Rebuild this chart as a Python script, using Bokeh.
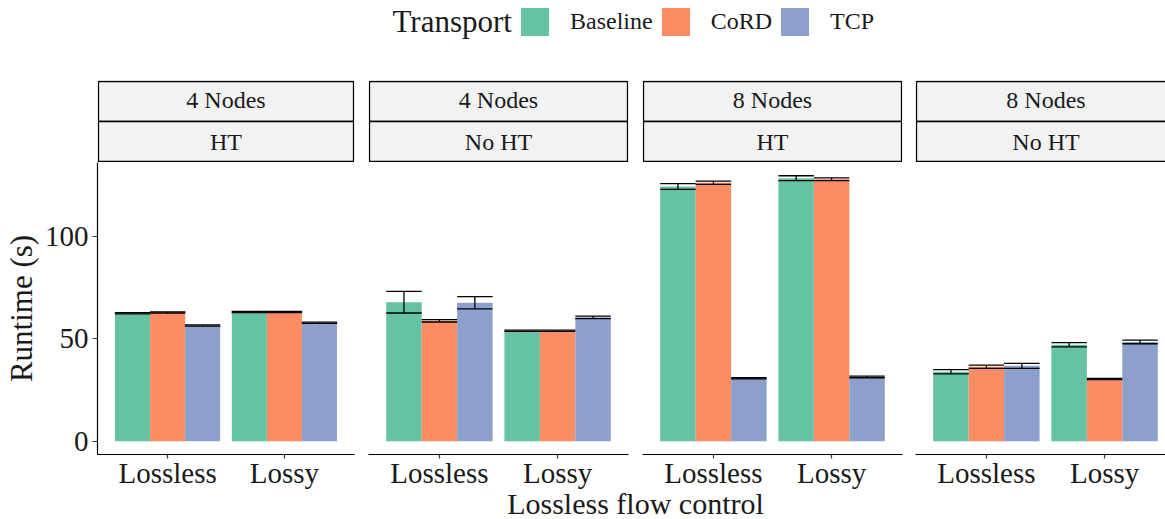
import numpy as np
from bokeh.plotting import figure
from bokeh.layouts import row, column
from bokeh.models import (ColumnDataSource, Range1d, FixedTicker, Whisker, TeeHead,
                          Legend, LegendItem, Label)
from bokeh.core.properties import value
from bokeh.embed import file_html
from bokeh.resources import INLINE

# ---- data -----------------------------------------------------------------
transports = ["Baseline", "CoRD", "TCP"]
flow_control = ["Lossless", "Lossy"]
node_counts = ["4 Nodes", "4 Nodes", "8 Nodes", "8 Nodes"]
hyperthreading = ["HT", "No HT", "HT", "No HT"]

# mean runtime (s), order: Lossless (Baseline, CoRD, TCP), Lossy (Baseline, CoRD, TCP)
runtime_4n_ht = [62.5, 62.8, 56.5, 63.1, 63.1, 57.8]
runtime_4n_noht = [67.9, 58.8, 67.6, 53.9, 53.9, 60.5]
runtime_8n_ht = [124.4, 126.2, 30.7, 128.4, 127.9, 31.4]
runtime_8n_noht = [33.9, 36.4, 36.8, 47.1, 30.4, 48.5]

# standard deviation of the runtime (s), same order
sd_4n_ht = [0.3, 0.3, 0.3, 0.3, 0.3, 0.3]
sd_4n_noht = [5.3, 0.6, 3.0, 0.3, 0.3, 0.6]
sd_8n_ht = [1.4, 0.8, 0.3, 1.2, 0.7, 0.4]
sd_8n_noht = [1.05, 0.8, 1.2, 1.0, 0.3, 0.9]

y_ticks = [0, 50, 100]

panel_means = [runtime_4n_ht, runtime_4n_noht, runtime_8n_ht, runtime_8n_noht]
panel_sds = [sd_4n_ht, sd_4n_noht, sd_8n_ht, sd_8n_noht]

# ---- style ----------------------------------------------------------------
COLORS = ["#66C2A5", "#FC8D62", "#8DA0CB"]
FONT = "Liberation Serif"
TEXT = "#1a1a1a"
STRIP_FILL = "#F2F2F2"

DODGE = 0.3             # width of one bar in category units
X_LO, X_HI = 0.4, 2.6    # discrete scale expanded by 0.6 on both sides
FRAME_W = 260
PPU = FRAME_W / (X_HI - X_LO)   # pixels per category unit
FRAME_H = 292
BOTTOM = 38
STRIP_H = 82
TITLE_OVERLAP = 8       # x-title row slides up under the tick labels (transparent)

# column layout: (outer width, left border, right border, frame width)
columns_geom = [(355, 94, 1, 260), (274, 13, 1, 260), (274, 13, 1, 260), (262, 12, 0, 250)]

# shared y scale: data range expanded by 5 %
all_lower = [m - s for ms, ss in zip(panel_means, panel_sds) for m, s in zip(ms, ss)]
all_upper = [m + s for ms, ss in zip(panel_means, panel_sds) for m, s in zip(ms, ss)]
d_lo, d_hi = min(0.0, min(all_lower)), max(all_upper)
pad = 0.05 * (d_hi - d_lo)
Y_LO, Y_HI = d_lo - pad, d_hi + pad


def bare(fig):
    fig.xgrid.visible = False
    fig.ygrid.visible = False
    fig.outline_line_color = None
    return fig


def make_panel(i):
    width, left, right, fw = columns_geom[i]
    x_hi = X_LO + fw / PPU
    means = np.array(panel_means[i], dtype=float)
    sds = np.array(panel_sds[i], dtype=float)
    fc_idx = np.repeat(np.arange(1, len(flow_control) + 1), len(transports))
    tr_idx = np.tile(np.arange(len(transports)), len(flow_control))
    src = ColumnDataSource(dict(
        x=fc_idx + (tr_idx - 1) * DODGE,
        top=means,
        lower=means - sds,
        upper=means + sds,
        color=[COLORS[t] for t in tr_idx],
    ))
    p = figure(width=width, height=FRAME_H + BOTTOM,
               x_range=Range1d(X_LO, x_hi), y_range=Range1d(Y_LO, Y_HI),
               output_backend="svg", toolbar_location=None,
               min_border_left=left, min_border_right=right,
               min_border_top=0, min_border_bottom=BOTTOM,
               y_axis_location="left" if i == 0 else None)
    bare(p)
    p.vbar(x="x", top="top", bottom=0, width=DODGE, fill_color="color",
           line_color=None, source=src)
    head = DODGE * PPU
    w = Whisker(dimension="height", base="x", upper="upper", lower="lower", source=src,
                line_color="black", line_width=1.3,
                upper_head=TeeHead(size=head, line_color="black", line_width=1.3),
                lower_head=TeeHead(size=head, line_color="black", line_width=1.3))
    w.level = "annotation"
    p.add_layout(w)

    xa = p.xaxis[0]
    xa.ticker = FixedTicker(ticks=list(range(1, len(flow_control) + 1)))
    xa.major_label_overrides = {k + 1: lab for k, lab in enumerate(flow_control)}
    for ax in p.axis:
        ax.axis_line_color = "black"
        ax.axis_line_width = 1.2
        ax.major_tick_line_color = "#333333"
        ax.major_tick_line_width = 1.2
        ax.major_tick_in = 0
        ax.minor_tick_line_color = None
        ax.major_label_text_font = FONT
        ax.major_label_text_font_size = "29px"
        ax.major_label_text_color = TEXT
    xa.major_tick_out = 4
    xa.major_label_standoff = -2
    if i == 0:
        ya = p.yaxis[0]
        ya.ticker = FixedTicker(ticks=y_ticks)
        ya.major_tick_out = 5
        ya.major_label_standoff = 4
        ya.axis_label = "Runtime (s)"
        ya.axis_label_text_font = FONT
        ya.axis_label_text_font_size = "31px"
        ya.axis_label_text_font_style = "normal"
        ya.axis_label_text_color = TEXT
        ya.axis_label_standoff = 3
    return p


def make_strip(i):
    width, left, right, fw = columns_geom[i]
    x_hi = X_LO + fw / PPU
    extra_r = 1 if right > 0 else 0
    s = figure(width=width, height=STRIP_H,
               x_range=Range1d(X_LO - 1 / PPU, x_hi + extra_r / PPU),
               y_range=Range1d(-1 / 40, 2 + 1 / 40),
               output_backend="svg", toolbar_location=None,
               min_border_left=left - 1, min_border_right=right - extra_r,
               min_border_top=0, min_border_bottom=0,
               x_axis_location=None, y_axis_location=None)
    bare(s)
    s.quad(left=X_LO, right=X_HI, bottom=[1, 0], top=[2, 1],
           fill_color=STRIP_FILL, line_color="black", line_width=1.3)
    s.text(x=(X_LO + X_HI) / 2, y=[1.54, 0.5], text=[node_counts[i], hyperthreading[i]],
           text_align="center", text_baseline="middle",
           text_font=value(FONT), text_font_size="24px", text_color=TEXT)
    return s


# ---- legend row -----------------------------------------------------------
lf = bare(figure(width=1165, height=80, x_range=Range1d(0, 1165), y_range=Range1d(80, 0),
                 output_backend="svg", toolbar_location=None,
                 min_border_left=0, min_border_right=0, min_border_top=0, min_border_bottom=0,
                 x_axis_location=None, y_axis_location=None))
items = []
for name, col in zip(transports, COLORS):
    # zero-height placeholder bar outside the view, only used for its legend swatch
    r = lf.vbar(x=[-50], top=[0], bottom=[0], width=1, fill_color=col, line_color=None)
    items.append(LegendItem(label=name, renderers=[r]))
legend = Legend(items=items, orientation="horizontal", location=(517, 41),
                glyph_width=35, glyph_height=35, label_standoff=18, spacing=5,
                padding=0, margin=0, border_line_color=None, background_fill_alpha=0,
                label_text_font=FONT, label_text_font_size="24px", label_text_color=TEXT)
lf.add_layout(legend)
lf.add_layout(Label(x=392, y=21, text="Transport", text_font=FONT, text_font_size="31px",
                    text_color=TEXT, text_align="left", text_baseline="middle"))

# ---- x title row ----------------------------------------------------------
tf = bare(figure(width=1165, height=27 + TITLE_OVERLAP,
                 x_range=Range1d(0, 1165), y_range=Range1d(27 + TITLE_OVERLAP, 0),
                 output_backend="svg", toolbar_location=None,
                 min_border_left=0, min_border_right=0, min_border_top=0, min_border_bottom=0,
                 x_axis_location=None, y_axis_location=None))
tf.background_fill_alpha = 0
tf.border_fill_alpha = 0
tf.margin = (-TITLE_OVERLAP, 0, 0, 0)
tf.add_layout(Label(x=635, y=10.5 + TITLE_OVERLAP, text="Lossless flow control", text_font=FONT,
                    text_font_size="30px", text_color=TEXT, text_align="center",
                    text_baseline="middle"))

panels_row = row(*[column(make_strip(i), make_panel(i)) for i in range(4)])
layout = column(lf, panels_row, tf)

open("out.html", "w").write(file_html(layout, INLINE))
